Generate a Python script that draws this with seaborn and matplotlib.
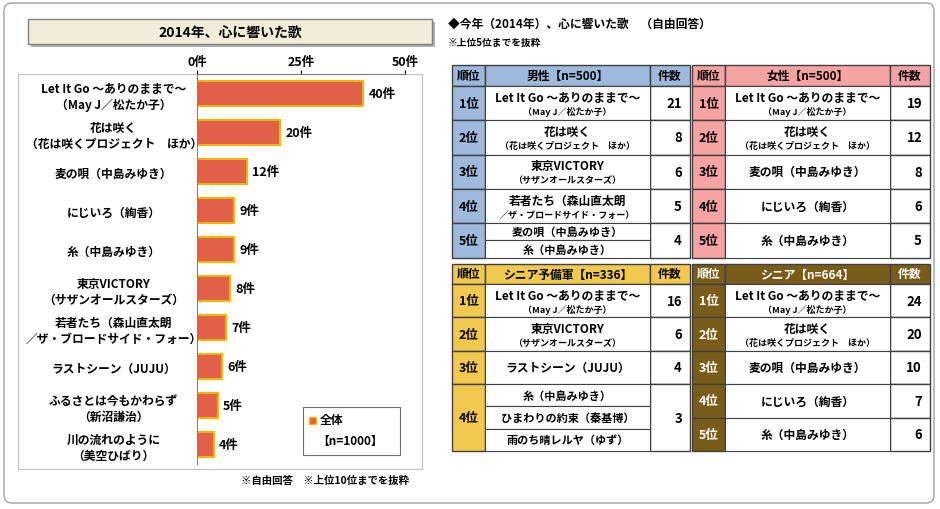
import matplotlib
matplotlib.use("Agg")
import matplotlib.pyplot as plt
import seaborn as sns
import pandas as pd
from matplotlib.patches import Rectangle, FancyBboxPatch

plt.rcParams["font.family"] = "Noto Sans CJK JP"
plt.rcParams["font.weight"] = "bold"

songs = ["Let It Go ～ありのままで～\n（May J／松たか子）", "花は咲く\n（花は咲くプロジェクト　ほか）",
         "麦の唄（中島みゆき）", "にじいろ（絢香）", "糸（中島みゆき）",
         "東京VICTORY\n（サザンオールスターズ）", "若者たち（森山直太朗\n／ザ・ブロードサイド・フォー）",
         "ラストシーン（JUJU）", "ふるさとは今もかわらず\n（新沼謙治）", "川の流れのように\n（美空ひばり）"]
counts = [40, 20, 12, 9, 9, 8, 7, 6, 5, 4]
ticks = [0, 25, 50]

men = [("1位", [("Let It Go ～ありのままで～", "（May J／松たか子）")], 21),
       ("2位", [("花は咲く", "（花は咲くプロジェクト　ほか）")], 8),
       ("3位", [("東京VICTORY", "（サザンオールスターズ）")], 6),
       ("4位", [("若者たち（森山直太朗", "／ザ・ブロードサイド・フォー）")], 5),
       ("5位", [("麦の唄（中島みゆき）", None), ("糸（中島みゆき）", None)], 4)]
women = [("1位", [("Let It Go ～ありのままで～", "（May J／松たか子）")], 19),
         ("2位", [("花は咲く", "（花は咲くプロジェクト　ほか）")], 12),
         ("3位", [("麦の唄（中島みゆき）", None)], 8),
         ("4位", [("にじいろ（絢香）", None)], 6),
         ("5位", [("糸（中島みゆき）", None)], 5)]
yobi = [("1位", [("Let It Go ～ありのままで～", "（May J／松たか子）")], 16),
        ("2位", [("東京VICTORY", "（サザンオールスターズ）")], 6),
        ("3位", [("ラストシーン（JUJU）", None)], 4),
        ("4位", [("糸（中島みゆき）", None), ("ひまわりの約束（秦基博）", None), ("雨のち晴レルヤ（ゆず）", None)], 3)]
senior = [("1位", [("Let It Go ～ありのままで～", "（May J／松たか子）")], 24),
          ("2位", [("花は咲く", "（花は咲くプロジェクト　ほか）")], 20),
          ("3位", [("麦の唄（中島みゆき）", None)], 10),
          ("4位", [("にじいろ（絢香）", None)], 7),
          ("5位", [("糸（中島みゆき）", None)], 6)]

fig = plt.figure(figsize=(9.4, 5.1), dpi=100)
ov = fig.add_axes([0, 0, 1, 1])
ov.set_xlim(0, 940); ov.set_ylim(510, 0); ov.axis("off")
ov.add_patch(FancyBboxPatch((4, 4), 930, 500, boxstyle="round,pad=0,rounding_size=8",
                            fc="white", ec="#A0A0A0", lw=1))

# title box
ov.add_patch(Rectangle((31, 23), 404, 25, fc="#B0B0B0", ec="none"))
ov.add_patch(Rectangle((28, 20), 404, 25, fc="#F3ECD9", ec="#808080", lw=1))
ov.text(230, 33, "2014年、心に響いた歌", ha="center", va="center", fontsize=10)
ov.add_patch(Rectangle((18, 75), 404, 395, fc="none", ec="#C0C0C0", lw=0.8))

# bar chart
ax = fig.add_axes([197/940, (510-465)/510, 208/940, 390/510])
ax.set_facecolor("none")
df = pd.DataFrame({"song": songs, "count": counts})
sns.barplot(data=df, y="song", x="count", ax=ax, color="#E0604A", edgecolor="#F5B400",
            linewidth=1.5, width=0.62, orient="h", saturation=1)
ax.set_xlim(0, 50)
ax.set_xticks(ticks)
ax.set_xticklabels([f"{t}件" for t in ticks], fontsize=9)
ax.xaxis.tick_top()
ax.tick_params(axis="x", length=3, pad=1)
ax.tick_params(axis="y", length=0, pad=60)
ax.set_yticks(range(len(songs)))
ax.set_yticklabels(songs, fontsize=8.5, ha="center", linespacing=1.3)
ax.set_xlabel(""); ax.set_ylabel("")
for s in ["right", "bottom"]:
    ax.spines[s].set_visible(False)
ax.spines["top"].set_color("#808080"); ax.spines["left"].set_color("#808080")
for i, c in enumerate(counts):
    ax.text(c + 1.3, i, f"{c}件", va="center", fontsize=9)
# legend
ov.add_patch(Rectangle((303, 408), 97, 48, fc="white", ec="#707070", lw=0.8))
ov.add_patch(Rectangle((309, 418), 7, 7, fc="#E0604A", ec="#F5B400", lw=1))
ov.text(320, 421, "全体", va="center", fontsize=8.5)
ov.text(350, 441, "【n=1000】", ha="center", va="center", fontsize=8.5)
ov.text(325, 481, "※自由回答　※上位10位までを抜粋", ha="center", va="center", fontsize=7.5)

ov.text(448, 24, "◆今年（2014年）、心に響いた歌　（自由回答）", va="center", fontsize=8.5)
ov.text(448, 43, "※上位5位までを抜粋", va="center", fontsize=7)

def table(x0, y0, hh, rowh, title, rows, hc, rc, tc):
    w = [33, 165, 40]
    xs = [x0, x0 + w[0], x0 + w[0] + w[1], x0 + sum(w)]
    for j, lab in enumerate(["順位", title, "件数"]):
        ov.add_patch(Rectangle((xs[j], y0), w[j], hh, fc=hc, ec="#404040", lw=1))
        ov.text((xs[j] + xs[j+1]) / 2, y0 + hh / 2, lab, ha="center", va="center", fontsize=8.5, color=tc)
    y = y0 + hh
    for rank, items, n in rows:
        h = rowh * 2 if len(items) == 3 else rowh
        ov.add_patch(Rectangle((xs[0], y), w[0], h, fc=rc, ec="#404040", lw=1))
        ov.text((xs[0] + xs[1]) / 2, y + h / 2, rank, ha="center", va="center", fontsize=9, color=tc)
        ov.add_patch(Rectangle((xs[2], y), w[2], h, fc="white", ec="#404040", lw=1))
        ov.text(xs[3] - 8, y + h / 2, str(n), ha="right", va="center", fontsize=9.5)
        sh = h / len(items)
        for k, (t1, t2) in enumerate(items):
            yy = y + k * sh
            ov.add_patch(Rectangle((xs[1], yy), w[1], sh, fc="white", ec="#404040", lw=0.8))
            cx = (xs[1] + xs[2]) / 2
            if t2:
                ov.text(cx, yy + sh * 0.33, t1, ha="center", va="center", fontsize=8.5)
                ov.text(cx, yy + sh * 0.74, t2, ha="center", va="center", fontsize=6.5)
            else:
                ov.text(cx, yy + sh / 2, t1, ha="center", va="center", fontsize=8.5 if len(items) == 1 else 8)
        y += h

table(452, 66, 21, 34.3, "男性【n=500】", men, "#9DB9DB", "#9DB9DB", "black")
table(692, 66, 21, 34.3, "女性【n=500】", women, "#F5A3A3", "#F5A3A3", "black")
table(452, 265, 20, 33.4, "シニア予備軍【n=336】", yobi, "#F0C94E", "#F0C94E", "black")
table(692, 265, 20, 33.4, "シニア【n=664】", senior, "#7A5C1A", "#7A5C1A", "white")

fig.savefig("out.png", dpi=100)
